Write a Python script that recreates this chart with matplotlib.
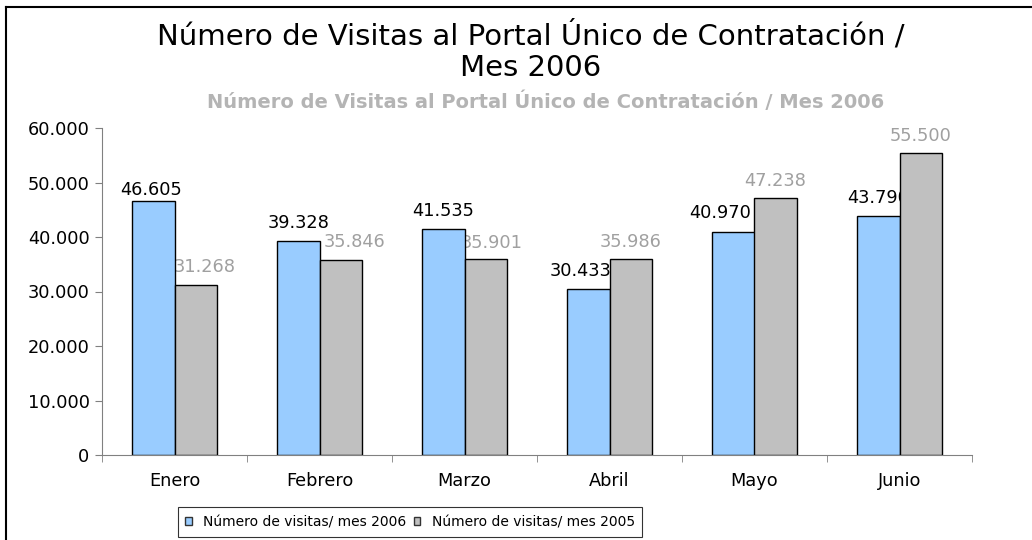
import matplotlib
matplotlib.use("Agg")
import matplotlib.pyplot as plt
from matplotlib.lines import Line2D
from matplotlib.patches import Patch
import numpy as np

months = ["Enero", "Febrero", "Marzo", "Abril", "Mayo", "Junio"]
visits_2006 = [46605, 39328, 41535, 30433, 40970, 43790]
visits_2005 = [31268, 35846, 35901, 35986, 47238, 55500]
yticks = [0, 10000, 20000, 30000, 40000, 50000, 60000]

# label nudges (pixels) as placed in the original chart
nudge_2006 = [(-2.5, -7), (0, 0), (0, 0), (-7.5, 0), (-13.5, 1), (0, 0)]
nudge_2005 = [(9.5, 0), (14, 0), (6, -2), (0, -1), (0, -1), (0, -1)]

def fmt(v):
    return f"{v:,}".replace(",", ".")

plt.rcParams['font.family'] = ['DejaVu Sans']
fig = plt.figure(figsize=(10.32, 5.4), dpi=100)
ax = fig.add_axes([102/1032, 85/540, 870/1032, 327/540])

x = np.arange(len(months))
w = 0.29
c_blue = "#99ccff"
c_gray = "#c0c0c0"
ax.bar(x - w/2, visits_2006, w, color=c_blue, edgecolor="black", linewidth=1, zorder=2)
ax.bar(x + w/2, visits_2005, w, color=c_gray, edgecolor="black", linewidth=1, zorder=2)

px = 0.72  # points per pixel at 100 dpi
for xi, v, (dx, dy) in zip(x, visits_2006, nudge_2006):
    ax.annotate(fmt(v), (xi - w/2, v), xytext=(dx*px, (9 + dy)*px), textcoords="offset points",
                ha="center", va="bottom", fontsize=12.8, color="black", zorder=1)
for xi, v, (dx, dy) in zip(x, visits_2005, nudge_2005):
    ax.annotate(fmt(v), (xi + w/2, v), xytext=(dx*px, (9 + dy)*px), textcoords="offset points",
                ha="center", va="bottom", fontsize=12.8, color="#a0a0a0", zorder=1)

ax.set_xlim(-0.5, len(months) - 0.5)
ax.set_ylim(0, 60000)
ax.set_yticks(yticks)
ax.set_yticklabels([fmt(t) for t in yticks], fontsize=12.8)
ax.set_xticks(x)
ax.set_xticklabels(months, fontsize=12.8)
ax.tick_params(axis="x", length=0, pad=12)
ax.set_xticks(np.arange(-0.5, len(months)), minor=True)
ax.tick_params(axis="x", which="minor", length=5, color="#808080", direction="out")
ax.tick_params(axis="y", length=5, color="#808080", pad=4)
for s in ["top", "right"]:
    ax.spines[s].set_visible(False)
for s in ["left", "bottom"]:
    ax.spines[s].set_color("#808080")

fig.text(531/1032, 1 - 36/540, "Número de Visitas al Portal Único de Contratación /", ha="center", va="center", fontsize=21)
fig.text(531/1032, 1 - 68/540, "Mes 2006", ha="center", va="center", fontsize=21)
fig.text(546/1032, 1 - 102/540, "Número de Visitas al Portal Único de Contratación / Mes 2006", ha="center", va="center", fontsize=14, color="#b4b4b4", fontweight="bold")

handles = [Patch(facecolor=c_blue, edgecolor="#333333"), Patch(facecolor=c_gray, edgecolor="#333333")]
leg = fig.legend(handles, ["Número de visitas/ mes 2006", "Número de visitas/ mes 2005"],
                 loc="center", bbox_to_anchor=(410/1032, 1 - 522/540), ncol=2, fontsize=10,
                 frameon=True, fancybox=False, edgecolor="black", handlelength=0.5, handleheight=0.5,
                 handletextpad=0.8, columnspacing=0.5, borderpad=0.55, borderaxespad=0)
leg.get_frame().set_linewidth(0.8)

fig.add_artist(Line2D([6/1032, 6/1032], [0, 1 - 7/540], color="black", linewidth=1.5, transform=fig.transFigure))
fig.add_artist(Line2D([6/1032, 1], [1 - 7/540, 1 - 7/540], color="black", linewidth=1.5, transform=fig.transFigure))

fig.savefig("out.png", dpi=100)
